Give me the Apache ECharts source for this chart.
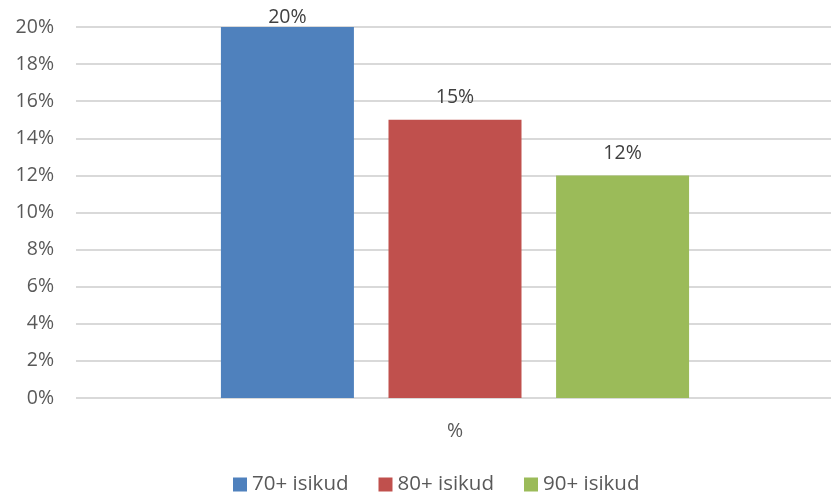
<!DOCTYPE html>
<html>
<head>
<meta charset="utf-8">
<script src="https://cdn.jsdelivr.net/npm/echarts@6/dist/echarts.min.js"></script>
<style>
  html, body { margin: 0; padding: 0; background: #ffffff; }
  #chart { width: 831px; height: 494px; }
</style>
</head>
<body>
<div id="chart"></div>
<script>
// Share of people in each age group (percent)
const categories = ['%'];
const seriesNames = ['70+ isikud', '80+ isikud', '90+ isikud'];
const seriesValues = [[20], [15], [12]];
const seriesColors = ['#4f81bd', '#c0504d', '#9bbb59'];
const yTicks = { min: 0, max: 20, interval: 2 };

const FONT = 'Open Sans';

const chart = echarts.init(document.getElementById('chart'));

// Labels sit well above each bar, except a bar reaching the axis top,
// whose label is kept just above it so it stays inside the chart.
const series = seriesNames.map((name, i) => ({
  name: name,
  type: 'bar',
  data: seriesValues[i].map(v => ({
    value: v,
    label: { distance: v >= yTicks.max ? 0 : 12 }
  })),
  barWidth: 133,
  barGap: '26%',
  itemStyle: { color: seriesColors[i] },
  label: {
    show: true,
    position: 'top',
    formatter: p => p.value + '%',
    color: '#404040',
    fontFamily: FONT,
    fontSize: 19.5
  }
}));

chart.setOption({
  animation: false,
  backgroundColor: '#ffffff',
  grid: { left: 76, width: 758, top: 27, bottom: 96, outerBoundsMode: 'none' },
  legend: {
    top: 469,
    left: 228,
    itemWidth: 14,
    itemHeight: 14,
    itemGap: 30,
    icon: 'rect',
    textStyle: { color: '#595959', fontFamily: FONT, fontSize: 20.5 },
    data: seriesNames
  },
  xAxis: {
    type: 'category',
    data: categories,
    axisLine: { show: false },
    axisTick: { show: false },
    axisLabel: { color: '#595959', fontFamily: FONT, fontSize: 19.5, margin: 23 }
  },
  yAxis: {
    type: 'value',
    min: yTicks.min,
    max: yTicks.max,
    interval: yTicks.interval,
    axisLine: { show: false },
    axisTick: { show: false },
    splitLine: { lineStyle: { color: '#d9d9d9', width: 2 } },
    axisLabel: {
      color: '#595959',
      fontFamily: FONT,
      fontSize: 19.5,
      margin: 22,
      formatter: v => v + '%'
    }
  },
  series: series
});
</script>
</body>
</html>
